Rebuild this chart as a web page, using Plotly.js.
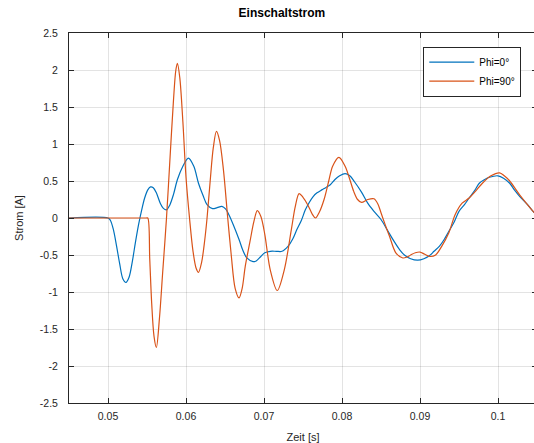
<!DOCTYPE html>
<html>
<head>
<meta charset="utf-8">
<script src="https://cdn.plot.ly/plotly-3.0.1.min.js"></script>
<style>
html,body{margin:0;padding:0;overflow:hidden;background:#fff;width:534px;height:443px;}
#chart{width:538px;height:443px;}
</style>
</head>
<body>
<div id="chart"></div>
<script>
// Phi = 0° (blue)
const tBlue = [0.045, 0.0500, 0.0503, 0.0507, 0.0511, 0.0515, 0.0519, 0.0523, 0.0527, 0.0531, 0.0535, 0.0539, 0.0543, 0.0547, 0.0551, 0.05545, 0.0558, 0.0562, 0.0567, 0.0571, 0.0575, 0.0579, 0.0584, 0.0589, 0.0596, 0.0603, 0.0610, 0.0616, 0.0622, 0.0627, 0.0634, 0.0640, 0.0646, 0.0651, 0.0655, 0.0661, 0.0668, 0.0673, 0.0678, 0.0686, 0.0690, 0.0696, 0.0701, 0.0708, 0.0716, 0.0723, 0.0731, 0.0737, 0.0742, 0.0748, 0.0753, 0.0758, 0.0763, 0.0768, 0.0774, 0.0779, 0.0785, 0.0791, 0.0797, 0.0804, 0.0810, 0.0816, 0.0825, 0.0833, 0.0841, 0.0850, 0.0858, 0.0867, 0.0874, 0.0880, 0.0888, 0.0897, 0.0905, 0.0912, 0.0918, 0.0925, 0.0931, 0.0937, 0.0944, 0.0950, 0.0957, 0.0963, 0.0970, 0.0976, 0.0983, 0.0989, 0.1000, 0.1008, 0.1015, 0.1021, 0.1028, 0.1037, 0.1045, 0.1050];
const iBlue = [0, 0, -0.03, -0.16, -0.38, -0.62, -0.82, -0.87, -0.80, -0.60, -0.34, -0.10, 0.10, 0.27, 0.38, 0.42, 0.41, 0.34, 0.20, 0.13, 0.11, 0.17, 0.32, 0.52, 0.70, 0.81, 0.70, 0.47, 0.30, 0.18, 0.126, 0.14, 0.157, 0.12, 0.045, -0.10, -0.29, -0.44, -0.54, -0.59, -0.58, -0.52, -0.47, -0.45, -0.45, -0.45, -0.38, -0.28, -0.16, -0.03, 0.11, 0.21, 0.29, 0.34, 0.38, 0.41, 0.45, 0.52, 0.57, 0.60, 0.57, 0.49, 0.35, 0.20, 0.09, -0.02, -0.16, -0.32, -0.43, -0.50, -0.55, -0.57, -0.55, -0.51, -0.45, -0.38, -0.29, -0.18, -0.05, 0.09, 0.18, 0.27, 0.37, 0.47, 0.52, 0.55, 0.57, 0.53, 0.47, 0.38, 0.29, 0.19, 0.09, 0.03];

// Phi = 90° (orange)
const tOrange = [0.045, 0.0549, 0.0551, 0.05535, 0.0556, 0.0559, 0.0562, 0.0566, 0.0570, 0.0575, 0.0580, 0.0584, 0.0587, 0.0589, 0.0592, 0.0596, 0.0600, 0.06045, 0.0609, 0.0613, 0.0616, 0.0620, 0.0624, 0.0627, 0.0631, 0.0635, 0.0639, 0.0643, 0.0648, 0.06535, 0.0658, 0.0663, 0.0668, 0.0672, 0.0676, 0.0682, 0.0687, 0.06914, 0.0696, 0.0701, 0.0708, 0.0717, 0.0726, 0.0735, 0.0740, 0.0745, 0.0750, 0.0756, 0.0762, 0.0766, 0.0771, 0.0777, 0.0783, 0.0788, 0.0796, 0.0804, 0.0810, 0.0815, 0.0820, 0.0825, 0.0833, 0.0841, 0.0846, 0.0850, 0.0855, 0.0861, 0.0869, 0.0878, 0.0883, 0.0888, 0.0894, 0.0900, 0.0906, 0.0913, 0.0920, 0.0928, 0.0937, 0.0945, 0.0954, 0.0963, 0.0971, 0.0980, 0.0991, 0.1002, 0.1008, 0.1015, 0.1028, 0.1045, 0.1050];
const iOrange = [0, 0, 0, -0.55, -1.15, -1.60, -1.75, -1.35, -0.75, 0.0, 0.90, 1.60, 2.00, 2.09, 1.90, 1.30, 0.55, 0.0, -0.45, -0.68, -0.735, -0.60, -0.30, 0.0, 0.50, 0.95, 1.17, 1.05, 0.65, 0.0, -0.50, -0.95, -1.08, -0.95, -0.65, -0.32, -0.05, 0.10, 0.02, -0.22, -0.70, -0.98, -0.70, -0.16, 0.15, 0.33, 0.28, 0.18, 0.05, 0.0, 0.08, 0.25, 0.50, 0.70, 0.82, 0.70, 0.52, 0.36, 0.25, 0.21, 0.25, 0.26, 0.19, 0.07, -0.08, -0.25, -0.47, -0.54, -0.53, -0.50, -0.47, -0.46, -0.49, -0.52, -0.50, -0.38, -0.20, 0.045, 0.20, 0.27, 0.36, 0.47, 0.57, 0.61, 0.57, 0.50, 0.31, 0.09, 0.03];

const seriesNames = ["Phi=0°", "Phi=90°"];
const xTicks = [0.05, 0.06, 0.07, 0.08, 0.09, 0.1];
const xTickText = ["0.05", "0.06", "0.07", "0.08", "0.09", "0.1"];
const yTicks = [-2.5, -2, -1.5, -1, -0.5, 0, 0.5, 1, 1.5, 2, 2.5];
const yTickText = ["-2.5", "-2", "-1.5", "-1", "-0.5", "0", "0.5", "1", "1.5", "2", "2.5"];

const axisCol = "#262626";
const gridCol = "rgba(38,38,38,0.13)";
const fontFam = "Liberation Sans, Arial, Helvetica, sans-serif";

const traces = [
  {x: tBlue, y: iBlue, name: seriesNames[0], type: "scatter", mode: "lines",
   line: {color: "#0072BD", width: 1.2, shape: "spline", smoothing: 0.9}},
  {x: tOrange, y: iOrange, name: seriesNames[1], type: "scatter", mode: "lines",
   line: {color: "#D95319", width: 1.2, shape: "spline", smoothing: 0.9}}
];

const layout = {
  width: 538, height: 443,
  margin: {l: 69, r: 1, t: 33, b: 40},
  paper_bgcolor: "#fff", plot_bgcolor: "#fff",
  font: {family: fontFam, size: 10.5, color: axisCol},
  title: {text: "<b>Einschaltstrom</b>", font: {family: fontFam, size: 12, color: "#000"},
          x: 0.455, xref: "paper", xanchor: "center", y: 1, yref: "container", yanchor: "top", pad: {t: 9}},
  xaxis: {
    range: [0.045, 0.105], tickvals: xTicks, ticktext: xTickText,
    ticks: "inside", ticklen: 5, tickcolor: axisCol, tickwidth: 1,
    showline: true, linecolor: axisCol, linewidth: 1, mirror: "ticks",
    showgrid: true, gridcolor: gridCol, gridwidth: 1, zeroline: false,
    tickfont: {size: 10.5, color: axisCol}, ticklabelstandoff: 3,
    title: {text: "Zeit [s]", font: {size: 11, color: axisCol}, standoff: 12}
  },
  yaxis: {
    range: [-2.5, 2.5], tickvals: yTicks, ticktext: yTickText,
    ticks: "inside", ticklen: 5, tickcolor: axisCol, tickwidth: 1,
    showline: true, linecolor: axisCol, linewidth: 1, mirror: "ticks",
    showgrid: true, gridcolor: gridCol, gridwidth: 1, zeroline: false,
    tickfont: {size: 10.5, color: axisCol}, ticklabelstandoff: 8,
    title: {text: "Strom [A]", font: {size: 11, color: axisCol}, standoff: 13}
  },
  showlegend: true,
  legend: {
    x: 0.757, y: 0.963, xanchor: "left", yanchor: "top",
    bgcolor: "#fff", bordercolor: axisCol, borderwidth: 1,
    font: {size: 10, color: "#000"}, tracegroupgap: 0, itemwidth: 45
  }
};

Plotly.newPlot("chart", traces, layout, {displayModeBar: false, staticPlot: true});
</script>
</body>
</html>
